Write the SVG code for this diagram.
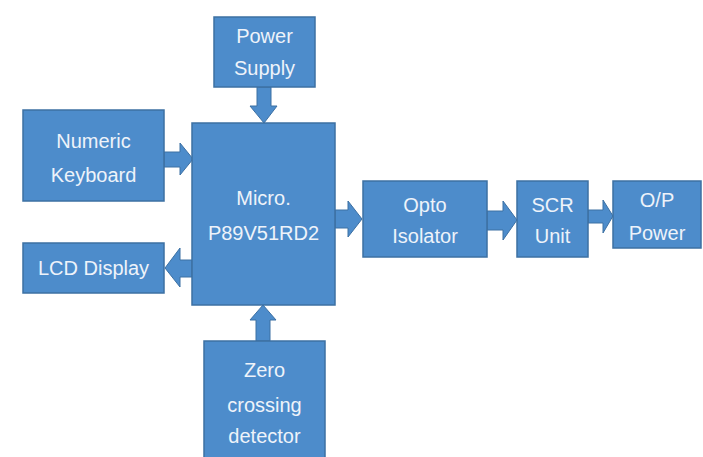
<svg xmlns="http://www.w3.org/2000/svg" width="703" height="457" viewBox="0 0 703 457">
<style>
.box{fill:#4d8ccb;stroke:#3c70a3;stroke-width:1.5}
.arr{fill:#4d8ccb;stroke:#3c70a3;stroke-width:1}
text{font-family:"Liberation Sans",Arial,sans-serif;font-size:20px;fill:#eef3fa;text-anchor:middle}
</style>
<rect width="703" height="457" fill="#ffffff"/>
<g id="connectors">
<polygon class="arr" points="257,87 271,87 271,106 277,106 264,123 250,106 257,106"/>
<polygon class="arr" points="164,152 180,152 180,143 193,159 180,175 180,167 164,167"/>
<polygon class="arr" points="192,260 180,260 180,248 165,268 180,287 180,277 192,277"/>
<polygon class="arr" points="335,210 348,210 348,201 362,219 348,237 348,228 335,228"/>
<polygon class="arr" points="256,341 270,341 270,320 276,320 263,305 250,320 256,320"/>
<polygon class="arr" points="487,211 503,211 503,201 517,220 503,240 503,230 487,230"/>
<polygon class="arr" points="588,210 603,210 603,200 613,216 603,233 603,223 588,223"/>
</g>
<g id="power">
<rect class="box" x="214" y="17" width="101" height="70"/>
<text x="264.5" y="43">Power</text>
<text x="264.5" y="75">Supply</text>
</g>
<g id="keyboard">
<rect class="box" x="23" y="110" width="141" height="91"/>
<text x="93.5" y="148">Numeric</text>
<text x="93.5" y="182">Keyboard</text>
</g>
<g id="lcd">
<rect class="box" x="23" y="243" width="141" height="50"/>
<text x="93.5" y="275">LCD Display</text>
</g>
<g id="micro">
<rect class="box" x="192" y="123" width="143" height="182"/>
<text x="263.5" y="205">Micro.</text>
<text x="263.5" y="240">P89V51RD2</text>
</g>
<g id="zero">
<rect class="box" x="204" y="341" width="121" height="120"/>
<text x="264.5" y="377">Zero</text>
<text x="264.5" y="412">crossing</text>
<text x="264.5" y="443">detector</text>
</g>
<g id="opto">
<rect class="box" x="363" y="181" width="124" height="76"/>
<text x="425" y="212">Opto</text>
<text x="425" y="243">Isolator</text>
</g>
<g id="scr">
<rect class="box" x="517" y="181" width="71" height="76"/>
<text x="552.5" y="212">SCR</text>
<text x="552.5" y="243">Unit</text>
</g>
<g id="op">
<rect class="box" x="613" y="181" width="88" height="67"/>
<text x="657" y="207">O/P</text>
<text x="657" y="240">Power</text>
</g>
</svg>
